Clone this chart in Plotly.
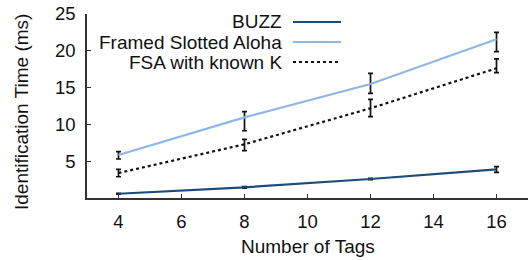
import plotly.graph_objects as go

tags = [4, 8, 12, 16]
x_ticks = [4, 6, 8, 10, 12, 14, 16]
y_ticks = [5, 10, 15, 20, 25]

buzz = [0.58, 1.45, 2.58, 3.90]
buzz_plus = [0.06, 0.10, 0.10, 0.35]
buzz_minus = [0.06, 0.10, 0.10, 0.41]

fsa = [5.84, 10.96, 15.49, 21.56]
fsa_plus = [0.45, 0.77, 1.45, 0.95]
fsa_minus = [0.54, 1.82, 1.27, 1.68]

known = [3.40, 7.30, 12.19, 17.62]
known_plus = [0.50, 0.67, 1.22, 1.27]
known_minus = [0.51, 0.87, 1.14, 0.59]

names = ["BUZZ", "Framed Slotted Aloha", "FSA with known K"]
colors = ["#1d4a7a", "#8fb6e6", "#111111"]
dashes = ["solid", "solid", "dot"]

FONT = "Liberation Sans, Arial, sans-serif"
fig = go.Figure()
series = [(buzz, buzz_plus, buzz_minus), (fsa, fsa_plus, fsa_minus), (known, known_plus, known_minus)]
for (vals, p, m), nm, c, d in zip(series, names, colors, dashes):
    fig.add_trace(go.Scatter(
        x=tags, y=vals, name=nm, mode="lines",
        line=dict(color=c, width=2.2, dash=d),
        error_y=dict(type="data", symmetric=False, array=p, arrayminus=m,
                     color="#111111", thickness=1.7, width=2.5),
        showlegend=False,
    ))

# legend drawn manually: text right-aligned with line sample on the right
L, R, T, B = 87, 4, 14, 62
W, H = 532, 260
pw, ph = W - L - R, H - T - B
def px(x):
    return (x - L) / pw
def py(y):
    return (H - B - y) / ph
leg_y = [22, 42, 62]
for nm, c, d, yy in zip(names, colors, dashes, leg_y):
    fig.add_annotation(x=px(284), y=py(yy), xref="paper", yref="paper",
                       text=nm, showarrow=False, xanchor="right", yanchor="middle",
                       font=dict(family=FONT, size=19, color="#111111"))
    fig.add_shape(type="line", xref="paper", yref="paper",
                  x0=px(293), x1=px(341), y0=py(yy), y1=py(yy),
                  line=dict(color=c, width=2.2, dash=d))

# axis titles placed as in the reference
fig.add_annotation(x=px(22), y=py(112), xref="paper", yref="paper",
                   text="Identification Time (ms)", textangle=-90, showarrow=False,
                   xanchor="center", yanchor="middle",
                   font=dict(family=FONT, size=19, color="#111111"))
fig.add_annotation(x=px(308), y=py(246), xref="paper", yref="paper",
                   text="Number of Tags", showarrow=False,
                   xanchor="center", yanchor="middle",
                   font=dict(family=FONT, size=19, color="#111111"))

fig.update_layout(
    width=W, height=H,
    margin=dict(l=L, r=R, t=T, b=B),
    paper_bgcolor="white", plot_bgcolor="white",
    font=dict(family=FONT, size=18, color="#111111"),
    showlegend=False,
)
fig.update_xaxes(range=[3, 17], tickvals=x_ticks, ticks="inside", ticklen=4,
                 tickcolor="#333333", showline=True, linecolor="#333333", linewidth=1.5,
                 showgrid=False, zeroline=False, mirror=False,
                 tickfont=dict(size=18.5), ticklabelstandoff=6)
fig.update_yaxes(range=[0, 25], tickvals=y_ticks, ticks="inside", ticklen=4,
                 tickcolor="#333333", showline=True, linecolor="#333333", linewidth=1.5,
                 showgrid=False, zeroline=False, mirror=False,
                 tickfont=dict(size=18.5), ticklabelstandoff=6)

fig.write_html("out.html", config={"displayModeBar": False},
               post_script="document.body.style.margin='0';document.body.style.padding='0';")
